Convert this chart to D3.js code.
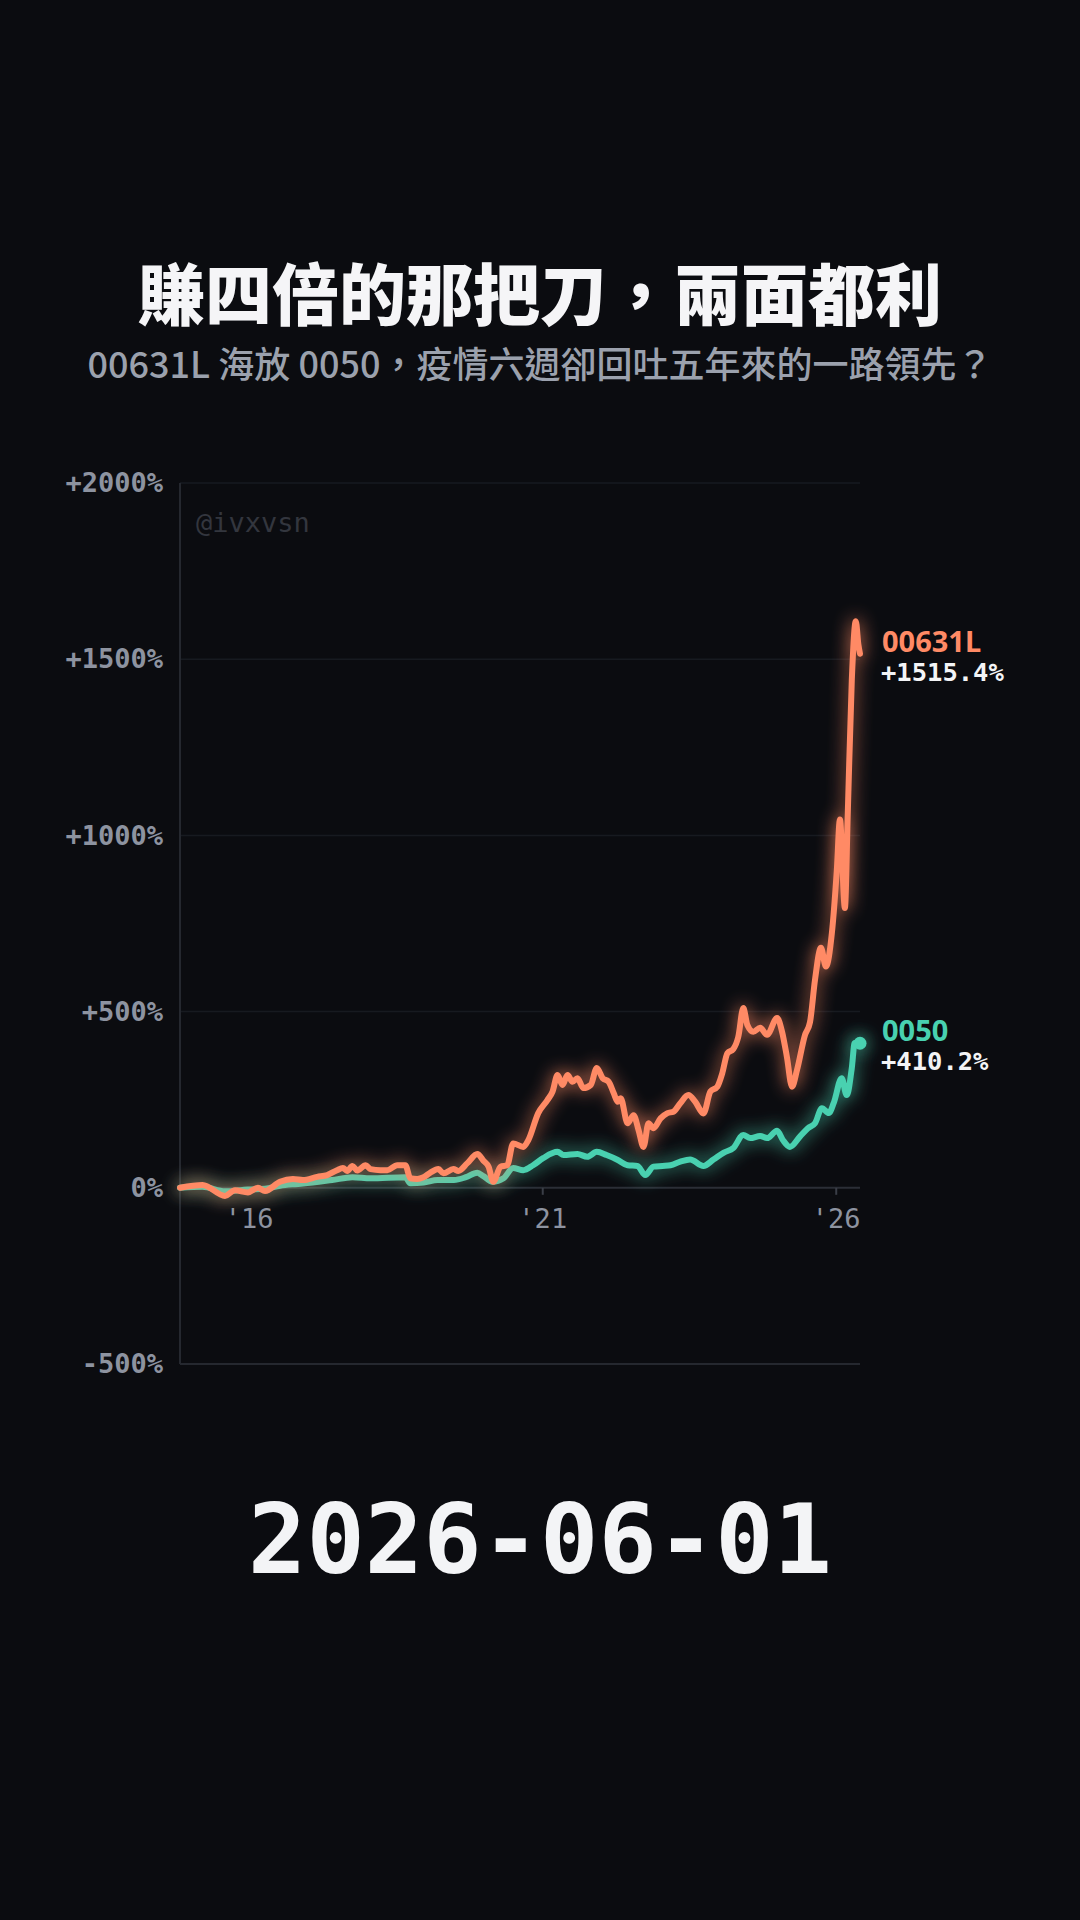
<!DOCTYPE html>
<html>
<head>
<meta charset="utf-8">
<script src="https://cdn.jsdelivr.net/npm/d3@7/dist/d3.min.js"></script>
<style>
  html, body { margin: 0; padding: 0; background: #0b0c10; }
  svg { display: block; }
</style>
</head>
<body>
<svg id="chart" width="1080" height="1920"></svg>
<script>
// ---------- DATA ----------
const titleText = "賺四倍的那把刀，兩面都利";
const subtitleText = "00631L 海放 0050，疫情六週卻回吐五年來的一路領先？";
const dateText = "2026-06-01";
const watermark = "@ivxvsn";

const seriesNames = ["00631L", "0050"];

const dates00631L = ["2014-10-31","2015-03-20","2015-08-07","2015-10-08","2015-12-28","2016-02-28","2016-04-12","2016-07-14","2016-10-03","2016-12-04","2017-03-02","2017-05-04","2017-07-04","2017-08-10","2017-09-05","2017-10-08","2017-11-07","2017-12-29","2018-01-29","2018-04-01","2018-05-13","2018-07-14","2018-09-02","2018-10-03","2018-11-15","2018-12-24","2019-02-05","2019-03-27","2019-04-27","2019-06-28","2019-07-29","2019-09-23","2019-11-24","2020-01-01","2020-02-02","2020-03-03","2020-04-16","2020-05-28","2020-07-04","2020-09-05","2020-10-06","2020-12-07","2021-02-02","2021-03-06","2021-04-06","2021-05-07","2021-06-07","2021-07-08","2021-08-08","2021-09-14","2021-10-30","2021-12-06","2022-01-12","2022-02-18","2022-03-22","2022-04-16","2022-05-04","2022-06-16","2022-07-23","2022-08-23","2022-09-23","2022-10-24","2022-11-24","2023-01-07","2023-02-19","2023-03-28","2023-05-10","2023-06-29","2023-08-11","2023-10-01","2023-11-13","2023-12-26","2024-01-26","2024-02-27","2024-04-04","2024-05-05","2024-06-05","2024-06-30","2024-08-06","2024-09-18","2024-10-31","2025-01-01","2025-02-01","2025-03-03","2025-04-04","2025-05-05","2025-06-24","2025-07-25","2025-08-25","2025-10-01","2025-11-01","2025-12-08","2026-01-08","2026-01-27","2026-02-27","2026-03-17","2026-04-11","2026-05-06","2026-05-22","2026-06-01"];
const values00631L = [0,8,-23,-7,-13,0,-9,17,25,22,31,36,50,56,48,62,49,64,53,50,50,64,64,27,25,30,43,53,41,53,48,70,96,77,60,17,60,64,126,116,135,212,249,273,320,292,320,301,311,283,292,340,311,301,268,244,254,183,206,164,116,183,169,197,212,216,240,263,244,211,273,287,325,382,394,429,510,462,443,454,434,482,443,372,287,334,434,470,590,681,628,723,903,1045,794,1063,1441,1608,1541,1515.4];

const dates0050 = ["2014-10-31","2015-03-20","2015-08-07","2015-12-28","2016-04-12","2016-07-14","2016-10-03","2016-12-04","2017-06-03","2017-10-08","2018-01-29","2018-09-02","2018-10-03","2018-12-24","2019-03-22","2019-07-01","2019-09-14","2019-11-24","2020-01-01","2020-02-26","2020-05-05","2020-07-04","2020-09-05","2020-11-05","2021-01-06","2021-04-06","2021-05-13","2021-08-08","2021-10-08","2021-12-06","2022-02-05","2022-04-16","2022-06-16","2022-08-16","2022-10-04","2022-11-24","2023-01-19","2023-03-10","2023-05-10","2023-07-10","2023-10-01","2023-12-02","2024-02-05","2024-04-04","2024-06-05","2024-07-18","2024-09-18","2024-10-31","2025-01-01","2025-02-07","2025-03-22","2025-05-23","2025-07-12","2025-08-25","2025-10-07","2025-11-19","2025-12-19","2026-02-07","2026-03-10","2026-04-11","2026-04-29","2026-06-01"];
const values0050 = [0,3,-10,-5,-3,6,10,12,22,30,27,30,13,15,22,22,30,43,33,17,27,56,50,64,84,102,93,96,88,102,93,79,64,62,36,60,62,64,74,80,62,80,100,113,150,141,147,141,162,135,116,145,169,183,226,212,240,311,263,340,411,410.2];

const yTickValues = [-500, 0, 500, 1000, 1500, 2000];
const xTickDates = ["2016-01-01", "2021-01-01", "2026-01-01"];
const xTickLabels = ["'16", "'21", "'26"];

// ---------- STYLE ----------
const W = 1080, H = 1920;
const plot = { left: 180, right: 860, top: 483, bottom: 1364 };
const colors = { "00631L": "#ff8a65", "0050": "#48d1b0" };
const mono = "'DejaVu Sans Mono', 'Liberation Mono', monospace";
const cjk = "'Noto Sans CJK TC', 'Noto Sans CJK SC', sans-serif";

const parse = d3.timeParse("%Y-%m-%d");
const svg = d3.select("#chart");

svg.append("rect").attr("width", W).attr("height", H).attr("fill", "#0b0c10");

// Glow filter
const defs = svg.append("defs");
const f = defs.append("filter").attr("id", "glow")
  .attr("filterUnits", "userSpaceOnUse")
  .attr("x", 0).attr("y", 0).attr("width", W).attr("height", H);
f.append("feGaussianBlur").attr("in", "SourceGraphic").attr("stdDeviation", 9).attr("result", "b");
f.append("feComponentTransfer").attr("in", "b").attr("result", "b2")
  .append("feFuncA").attr("type", "linear").attr("slope", 0.9);
const fm = f.append("feMerge");
fm.append("feMergeNode").attr("in", "b2");
fm.append("feMergeNode").attr("in", "SourceGraphic");

// Title
svg.append("text").attr("x", 540).attr("y", 320).attr("text-anchor", "middle")
  .attr("font-family", cjk).attr("font-weight", 900).attr("font-size", 67)
  .attr("fill", "#f5f5f7").text(titleText);
svg.append("text").attr("x", 540).attr("y", 378).attr("text-anchor", "middle")
  .attr("font-family", cjk).attr("font-weight", 500).attr("font-size", 36)
  .attr("fill", "#9ba1ad").text(subtitleText);

// Scales
const x = d3.scaleTime()
  .domain([parse("2014-10-31"), parse("2026-06-01")])
  .range([plot.left, plot.right]);
const y = d3.scaleLinear().domain([-500, 2000]).range([plot.bottom, plot.top]);

// Grid
const g = svg.append("g");
g.selectAll(".grid").data(yTickValues.filter(v => v > 0)).enter().append("line")
  .attr("x1", plot.left).attr("x2", plot.right)
  .attr("y1", d => y(d)).attr("y2", d => y(d))
  .attr("stroke", "#171a20").attr("stroke-width", 1.5);
// zero line
g.append("line").attr("x1", plot.left).attr("x2", plot.right)
  .attr("y1", y(0)).attr("y2", y(0)).attr("stroke", "#2b2e36").attr("stroke-width", 2);
// left & bottom frame
g.append("line").attr("x1", plot.left).attr("x2", plot.left)
  .attr("y1", plot.top).attr("y2", plot.bottom).attr("stroke", "#25282f").attr("stroke-width", 2);
g.append("line").attr("x1", plot.left).attr("x2", plot.right)
  .attr("y1", plot.bottom).attr("y2", plot.bottom).attr("stroke", "#25282f").attr("stroke-width", 2);

// Y axis labels
const yAxis = d3.axisLeft(y).tickValues(yTickValues)
  .tickSize(0).tickPadding(17)
  .tickFormat(d => (d > 0 ? "+" : "") + d + "%");
const ya = svg.append("g").attr("transform", `translate(${plot.left},0)`).call(yAxis);
ya.select(".domain").remove();
ya.selectAll("text").attr("font-family", mono).attr("font-weight", 700)
  .attr("font-size", 27).attr("fill", "#8d93a0");

// X axis at zero
const xAxis = d3.axisBottom(x).tickValues(xTickDates.map(parse))
  .tickSize(7).tickPadding(14)
  .tickFormat((d, i) => xTickLabels[i]);
const xa = svg.append("g").attr("transform", `translate(0,${y(0)})`).call(xAxis);
xa.select(".domain").remove();
xa.selectAll("line").attr("stroke", "#3a3e47").attr("stroke-width", 2);
xa.selectAll("text").attr("font-family", mono).attr("font-weight", 500)
  .attr("font-size", 27).attr("fill", "#8d93a0");

// Watermark
svg.append("text").attr("x", 196).attr("y", 532)
  .attr("font-family", mono).attr("font-size", 27).attr("fill", "#33363e")
  .text(watermark);

// Lines
const line = d3.line().x(d => x(d.date)).y(d => y(d.value)).curve(d3.curveMonotoneX);
const series = [
  { name: "0050", data: dates0050.map((d, i) => ({ date: parse(d), value: values0050[i] })) },
  { name: "00631L", data: dates00631L.map((d, i) => ({ date: parse(d), value: values00631L[i] })) }
];
const lg = svg.append("g");
series.forEach(s => {
  lg.append("path").datum(s.data).attr("d", line)
    .attr("fill", "none").attr("stroke", colors[s.name]).attr("stroke-width", 6)
    .attr("stroke-linejoin", "round").attr("stroke-linecap", "round")
    .attr("filter", "url(#glow)");
});
// end dot for 0050
const last0050 = series[0].data[series[0].data.length - 1];
lg.append("circle").attr("cx", x(last0050.date)).attr("cy", y(last0050.value)).attr("r", 6.5)
  .attr("fill", colors["0050"]).attr("filter", "url(#glow)");

// End labels
series.forEach(s => {
  const last = s.data[s.data.length - 1];
  const ly = y(last.value);
  svg.append("text").attr("x", 882).attr("y", ly - 2)
    .attr("font-family", "'Noto Sans', Inter, sans-serif").attr("font-weight", 700)
    .attr("font-size", 29).attr("fill", colors[s.name]).text(s.name);
  svg.append("text").attr("x", 881).attr("y", ly + 27)
    .attr("font-family", mono).attr("font-weight", 700)
    .attr("font-size", 25.5).attr("fill", "#f3f4f6")
    .text("+" + last.value.toFixed(1) + "%");
});

// Date
svg.append("text").attr("x", 540).attr("y", 1573).attr("text-anchor", "middle")
  .attr("font-family", mono).attr("font-weight", 700).attr("font-size", 97)
  .attr("fill", "#f3f4f6").text(dateText);
</script>
</body>
</html>
